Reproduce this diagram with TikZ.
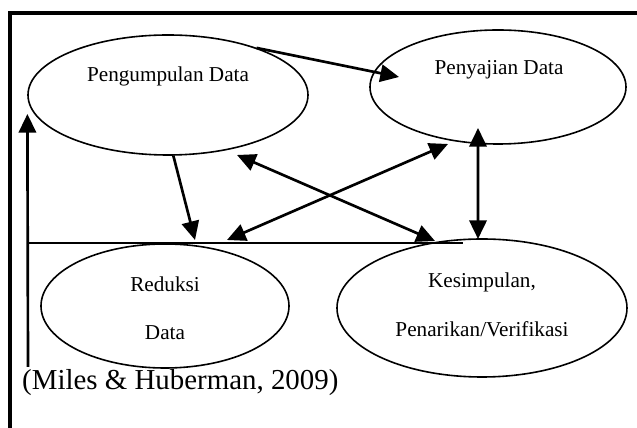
\documentclass[tikz,border=0pt]{standalone}
\usepackage{fontspec}
\setmainfont{Liberation Serif}
\usepackage{tikz}
\usetikzlibrary{shapes.geometric, arrows.meta, calc}

\begin{document}
\begin{tikzpicture}[x=1pt, y=1pt, scale=0.75, transform shape,
    oval/.style={draw, ellipse, line width=1.2pt, inner sep=0pt},
    isi/.style={font=\fontsize{21.2}{24}\selectfont, anchor=base, inner sep=0pt},
    panah/.style={line width=2pt, -{Triangle[length=14pt, width=13pt]}},
    panahdua/.style={line width=2pt, {Triangle[length=14pt, width=13pt]}-{Triangle[length=14pt, width=13pt]}}]
    \useasboundingbox (0,0) rectangle (637,428);

    % Frame
    \draw[line width=3.2pt] (10,0) -- (10,415) -- (637,415);

    % Ellipses
    \node[oval, minimum width=280pt, minimum height=120pt] (pengumpulan) at (168,333) {};
    \node[oval, minimum width=256pt, minimum height=114pt] (penyajian) at (498,341) {};
    \node[oval, minimum width=248pt, minimum height=124pt] (reduksi) at (165,122) {};
    \node[oval, minimum width=290pt, minimum height=138pt] (kesimpulan) at (482,120) {};

    % Texts
    \node[isi] (pengumpulan-a) at ($(pengumpulan.center)+(0,13)$) {Pengumpulan Data};
    \node[isi] (penyajian-a) at ($(penyajian.center)+(1,12)$) {Penyajian Data};
    \node[isi] (reduksi-a) at ($(reduksi.center)+(0,14)$) {Reduksi};
    \node[isi] (reduksi-b) at ($(reduksi.center)+(0,-34)$) {Data};
    \node[isi] (kesimpulan-a) at ($(kesimpulan.center)+(0,20)$) {Kesimpulan,};
    \node[isi] (kesimpulan-b) at ($(kesimpulan.center)+(0,-29)$) {Penarikan/Verifikasi};
    \node[font=\fontsize{28.9}{32}\selectfont, anchor=base west, inner sep=0pt] (sumber) at (22,38) {(Miles \& Huberman, 2009)};

    % Arrows
    \draw[panah] (pengumpulan.28) -- ($(penyajian.center)+(-99,10)$);
    \draw[panah] (pengumpulan.-85) -- ($(reduksi.center)+(30,66)$);
    \draw[panahdua] ($(pengumpulan.center)+(69,-60)$) -- ($(kesimpulan.center)+(-47,67)$);
    \draw[panahdua] ($(reduksi.center)+(62,66)$) -- ($(penyajian.center)+(-50,-57)$);
    \draw[panahdua] ($(penyajian.center)+(-20,-41)$) -- ($(kesimpulan.center)+(-4,69)$);

    % Feedback line
    \coordinate (bawah) at (28,61);
    \coordinate (ujung) at (463,185);
    \draw[panah] (bawah) -- ($(pengumpulan.west)+(0,-19)$);
    \draw[line width=1.4pt] (bawah |- ujung) -- (ujung);
\end{tikzpicture}
\end{document}
